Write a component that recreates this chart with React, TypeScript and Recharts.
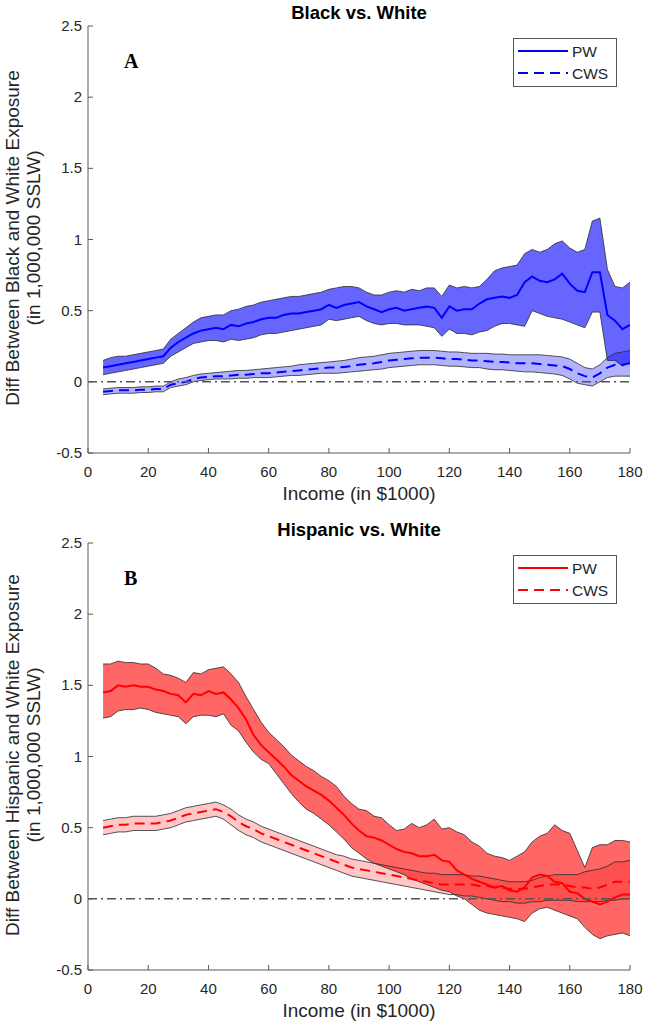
import React from 'react';
import { ComposedChart, Area, Line, XAxis, YAxis, ReferenceLine } from 'recharts';

const incomes = [
  5, 7.5, 10, 12.5, 15, 17.5, 20, 22.5, 25, 27.5,
  30, 32.5, 35, 37.5, 40, 42.5, 45, 47.5, 50, 52.5,
  55, 57.5, 60, 62.5, 65, 67.5, 70, 72.5, 75, 77.5,
  80, 82.5, 85, 87.5, 90, 92.5, 95, 97.5, 100, 102.5,
  105, 107.5, 110, 112.5, 115, 117.5, 120, 122.5, 125, 127.5,
  130, 132.5, 135, 137.5, 140, 142.5, 145, 147.5, 150, 152.5,
  155, 157.5, 160, 162.5, 165, 167.5, 170, 172.5, 175, 177.5,
  180,
];

// Panel A: Black vs. White
const blackPwMean = [
  0.10, 0.11, 0.12, 0.13, 0.14, 0.15, 0.16, 0.17, 0.18, 0.24,
  0.28, 0.31, 0.34, 0.36, 0.37, 0.38, 0.37, 0.40, 0.39, 0.41,
  0.42, 0.44, 0.45, 0.45, 0.47, 0.48, 0.48, 0.49, 0.50, 0.51,
  0.54, 0.52, 0.54, 0.55, 0.56, 0.53, 0.51, 0.49, 0.51, 0.52,
  0.50, 0.51, 0.52, 0.53, 0.52, 0.45, 0.53, 0.50, 0.51, 0.51,
  0.55, 0.58, 0.59, 0.60, 0.59, 0.61, 0.70, 0.74, 0.71, 0.70,
  0.72, 0.76, 0.69, 0.64, 0.63, 0.77, 0.77, 0.47, 0.43, 0.37,
  0.40,
];
const blackPwHi = [
  0.15, 0.17, 0.18, 0.18, 0.19, 0.20, 0.21, 0.22, 0.23, 0.30,
  0.34, 0.38, 0.42, 0.45, 0.46, 0.47, 0.47, 0.50, 0.51, 0.53,
  0.54, 0.56, 0.57, 0.58, 0.59, 0.60, 0.60, 0.61, 0.62, 0.63,
  0.65, 0.66, 0.67, 0.67, 0.66, 0.63, 0.61, 0.61, 0.63, 0.64,
  0.63, 0.65, 0.64, 0.66, 0.66, 0.60, 0.68, 0.66, 0.67, 0.66,
  0.67, 0.72, 0.78, 0.80, 0.81, 0.82, 0.90, 0.93, 0.91, 0.93,
  0.97, 0.99, 0.94, 0.91, 0.93, 1.13, 1.15, 0.79, 0.67, 0.66,
  0.70,
];
const blackPwLo = [
  0.05, 0.06, 0.07, 0.08, 0.09, 0.10, 0.11, 0.12, 0.13, 0.18,
  0.21, 0.24, 0.27, 0.28, 0.29, 0.29, 0.28, 0.30, 0.29, 0.30,
  0.31, 0.33, 0.34, 0.34, 0.35, 0.36, 0.37, 0.38, 0.39, 0.40,
  0.44, 0.43, 0.44, 0.45, 0.46, 0.43, 0.41, 0.40, 0.41, 0.41,
  0.40, 0.40, 0.40, 0.39, 0.38, 0.32, 0.37, 0.34, 0.34, 0.33,
  0.35, 0.36, 0.39, 0.41, 0.41, 0.40, 0.39, 0.50, 0.48, 0.46,
  0.45, 0.44, 0.42, 0.40, 0.38, 0.49, 0.49, 0.15, 0.15, 0.11,
  0.14,
];
const blackCwsMean = [
  -0.07, -0.065, -0.06, -0.06, -0.06, -0.055, -0.055, -0.05, -0.05, -0.02,
  -0.01, 0.0, 0.02, 0.03, 0.035, 0.04, 0.04, 0.045, 0.05, 0.05,
  0.055, 0.06, 0.06, 0.065, 0.07, 0.075, 0.08, 0.085, 0.09, 0.095,
  0.10, 0.10, 0.105, 0.11, 0.12, 0.125, 0.13, 0.14, 0.15, 0.155,
  0.16, 0.165, 0.17, 0.17, 0.17, 0.165, 0.16, 0.16, 0.155, 0.15,
  0.15, 0.145, 0.14, 0.14, 0.135, 0.13, 0.13, 0.13, 0.125, 0.12,
  0.115, 0.11, 0.09, 0.06, 0.04, 0.03, 0.06, 0.10, 0.12, 0.12,
  0.13,
];
const blackCwsHi = [
  -0.05, -0.045, -0.04, -0.04, -0.04, -0.035, -0.035, -0.03, -0.03, 0.0,
  0.02, 0.03, 0.045, 0.055, 0.06, 0.065, 0.07, 0.075, 0.08, 0.08,
  0.085, 0.09, 0.095, 0.10, 0.105, 0.11, 0.12, 0.125, 0.13, 0.135,
  0.14, 0.145, 0.15, 0.16, 0.17, 0.175, 0.18, 0.19, 0.20, 0.205,
  0.21, 0.215, 0.22, 0.22, 0.22, 0.215, 0.21, 0.21, 0.205, 0.20,
  0.20, 0.20, 0.195, 0.195, 0.19, 0.19, 0.19, 0.19, 0.19, 0.185,
  0.18, 0.175, 0.16, 0.13, 0.10, 0.09, 0.12, 0.17, 0.20, 0.21,
  0.22,
];
const blackCwsLo = [
  -0.09, -0.085, -0.08, -0.08, -0.08, -0.075, -0.075, -0.07, -0.07, -0.04,
  -0.03, -0.02, 0.0, 0.01, 0.015, 0.02, 0.02, 0.02, 0.025, 0.025,
  0.03, 0.03, 0.03, 0.035, 0.04, 0.045, 0.045, 0.05, 0.055, 0.06,
  0.06, 0.06, 0.065, 0.07, 0.075, 0.08, 0.085, 0.09, 0.10, 0.105,
  0.11, 0.115, 0.12, 0.12, 0.12, 0.115, 0.11, 0.11, 0.105, 0.10,
  0.10, 0.09, 0.085, 0.085, 0.08, 0.075, 0.07, 0.07, 0.065, 0.06,
  0.055, 0.045, 0.02, -0.01, -0.02, -0.03, 0.0, 0.03, 0.04, 0.04,
  0.04,
];

// Panel B: Hispanic vs. White
const hispPwMean = [
  1.45, 1.46, 1.50, 1.49, 1.50, 1.49, 1.49, 1.47, 1.46, 1.44,
  1.43, 1.38, 1.44, 1.43, 1.46, 1.44, 1.45, 1.40, 1.34, 1.26,
  1.15, 1.08, 1.03, 0.98, 0.93, 0.87, 0.83, 0.79, 0.76, 0.73,
  0.69, 0.64, 0.59, 0.53, 0.48, 0.44, 0.43, 0.41, 0.38, 0.35,
  0.33, 0.32, 0.30, 0.30, 0.31, 0.27, 0.26, 0.20, 0.17, 0.14,
  0.12, 0.10, 0.08, 0.09, 0.06, 0.05, 0.08, 0.15, 0.17, 0.16,
  0.12, 0.11, 0.05, 0.04, 0.0, -0.02, -0.04, -0.02, 0.01, 0.03,
  0.03,
];
const hispPwHi = [
  1.65, 1.65, 1.67, 1.66, 1.66, 1.65, 1.65, 1.62, 1.58, 1.57,
  1.55, 1.52, 1.59, 1.58, 1.61, 1.62, 1.63, 1.58, 1.52, 1.42,
  1.33, 1.24, 1.17, 1.12, 1.07, 1.01, 0.97, 0.93, 0.90, 0.86,
  0.83, 0.79, 0.72, 0.67, 0.63, 0.62, 0.58, 0.57, 0.52, 0.48,
  0.49, 0.53, 0.50, 0.52, 0.56, 0.49, 0.50, 0.47, 0.45, 0.40,
  0.37, 0.32, 0.30, 0.29, 0.27, 0.30, 0.33, 0.40, 0.44, 0.46,
  0.52, 0.48, 0.46, 0.34, 0.22, 0.36, 0.38, 0.38, 0.41, 0.41,
  0.40,
];
const hispPwLo = [
  1.27, 1.28, 1.32, 1.33, 1.33, 1.34, 1.33, 1.31, 1.30, 1.29,
  1.28, 1.23, 1.28, 1.29, 1.29, 1.28, 1.30, 1.22, 1.18, 1.10,
  1.03, 0.98, 0.95, 0.88, 0.81, 0.74, 0.68, 0.63, 0.60, 0.56,
  0.52, 0.47, 0.42, 0.36, 0.32, 0.28, 0.25, 0.23, 0.21, 0.19,
  0.17, 0.14, 0.12, 0.10, 0.08, 0.06, 0.05, 0.02, 0.0, -0.04,
  -0.08, -0.10, -0.11, -0.12, -0.13, -0.14, -0.16, -0.10, -0.07, -0.06,
  -0.08, -0.10, -0.12, -0.14, -0.20, -0.25, -0.28, -0.26, -0.25, -0.24,
  -0.26,
];
const hispCwsMean = [
  0.50, 0.51, 0.52, 0.52, 0.53, 0.53, 0.53, 0.53, 0.54, 0.55,
  0.57, 0.59, 0.60, 0.61, 0.62, 0.63, 0.61, 0.58, 0.54, 0.51,
  0.49, 0.46, 0.44, 0.42, 0.40, 0.38, 0.36, 0.34, 0.32, 0.30,
  0.28, 0.26, 0.24, 0.22, 0.21, 0.20, 0.19, 0.18, 0.17, 0.16,
  0.15, 0.14, 0.13, 0.12, 0.11, 0.10, 0.10, 0.10, 0.10, 0.10,
  0.09, 0.09, 0.08, 0.08, 0.07, 0.07, 0.07, 0.08, 0.09, 0.10,
  0.10, 0.10, 0.09, 0.08, 0.08, 0.07, 0.08, 0.10, 0.12, 0.12,
  0.12,
];
const hispCwsHi = [
  0.55, 0.56, 0.57, 0.57, 0.58, 0.58, 0.58, 0.58, 0.59, 0.60,
  0.62, 0.64, 0.65, 0.66, 0.67, 0.68, 0.66, 0.63, 0.59, 0.56,
  0.54, 0.51, 0.49, 0.47, 0.45, 0.43, 0.41, 0.39, 0.37, 0.35,
  0.33, 0.31, 0.30, 0.28, 0.27, 0.26, 0.25, 0.24, 0.23, 0.22,
  0.21, 0.20, 0.19, 0.18, 0.18, 0.17, 0.17, 0.17, 0.17, 0.16,
  0.16, 0.15, 0.14, 0.13, 0.12, 0.12, 0.12, 0.13, 0.15, 0.16,
  0.17, 0.17, 0.17, 0.17, 0.19, 0.20, 0.21, 0.23, 0.26, 0.26,
  0.27,
];
const hispCwsLo = [
  0.45, 0.46, 0.47, 0.47, 0.48, 0.48, 0.48, 0.48, 0.49, 0.50,
  0.52, 0.54, 0.55, 0.56, 0.57, 0.58, 0.56, 0.52, 0.48, 0.45,
  0.43, 0.40, 0.38, 0.36, 0.34, 0.32, 0.30, 0.28, 0.26, 0.24,
  0.22, 0.20, 0.18, 0.16, 0.15, 0.14, 0.13, 0.12, 0.11, 0.10,
  0.09, 0.08, 0.07, 0.06, 0.05, 0.04, 0.03, 0.03, 0.02, 0.02,
  0.01, 0.0, -0.01, -0.02, -0.02, -0.03, -0.03, -0.02, -0.02, -0.01,
  -0.01, -0.01, -0.01, -0.02, -0.02, -0.02, -0.02, -0.01, -0.01, 0.0,
  0.0,
];

const xTicks = [0, 20, 40, 60, 80, 100, 120, 140, 160, 180];
const yTicks = [-0.5, 0, 0.5, 1, 1.5, 2, 2.5];

const seriesLabels = ['PW', 'CWS'];
const panelTitles = ['Black vs. White', 'Hispanic vs. White'];
const panelLetters = ['A', 'B'];
const yLabelLines = [
  ['Diff Between Black and White Exposure', '(in 1,000,000 SSLW)'],
  ['Diff Between Hispanic and White Exposure', '(in 1,000,000 SSLW)'],
];
const xLabel = 'Income (in $1000)';

const FONT = '"Liberation Sans", Arial, Helvetica, sans-serif';
const AXIS_COLOR = '#5a5a5a';
const TEXT_COLOR = '#262626';

const W = 647;
const H = 514;
const PLOT_LEFT = 88;
const PLOT_RIGHT = 630;
const PLOT_TOP = 26;
const PLOT_BOTTOM = 453;
const X_AXIS_H = 30;
const Y_AXIS_W = 40;
const M = {
  top: PLOT_TOP,
  right: W - PLOT_RIGHT,
  bottom: H - PLOT_BOTTOM - X_AXIS_H,
  left: PLOT_LEFT - Y_AXIS_W,
};

const XTick = (props: any) => {
  const { x, payload } = props;
  return (
    <g>
      <line x1={x} x2={x} y1={PLOT_BOTTOM} y2={PLOT_BOTTOM - 5} stroke={AXIS_COLOR} strokeWidth={1} />
      <text x={x} y={PLOT_BOTTOM + 24} textAnchor="middle" fontSize={15} fontFamily={FONT} fill={TEXT_COLOR}>
        {String(payload.value)}
      </text>
    </g>
  );
};

const YTick = (props: any) => {
  const { y, payload } = props;
  return (
    <g>
      <line x1={PLOT_LEFT} x2={PLOT_LEFT + 5} y1={y} y2={y} stroke={AXIS_COLOR} strokeWidth={1} />
      <text x={PLOT_LEFT - 6} y={y + 5} textAnchor="end" fontSize={15} fontFamily={FONT} fill={TEXT_COLOR}>
        {String(payload.value)}
      </text>
    </g>
  );
};

function buildRows(pwM: number[], pwL: number[], pwH: number[], cM: number[], cL: number[], cH: number[]) {
  return incomes.map((x, i) => ({
    x,
    pw: pwM[i],
    pwLo: pwL[i],
    pwHi: pwH[i],
    pwBand: [pwL[i], pwH[i]],
    cws: cM[i],
    cwsLo: cL[i],
    cwsHi: cH[i],
    cwsBand: [cL[i], cH[i]],
  }));
}

const panels = [
  {
    rows: buildRows(blackPwMean, blackPwLo, blackPwHi, blackCwsMean, blackCwsLo, blackCwsHi),
    color: '#0000ff',
    pwOpacity: 0.6,
    cwsOpacity: 0.3,
  },
  {
    rows: buildRows(hispPwMean, hispPwLo, hispPwHi, hispCwsMean, hispCwsLo, hispCwsHi),
    color: '#ff0000',
    pwOpacity: 0.6,
    cwsOpacity: 0.22,
  },
];

const DASH = '10 6';

function Panel({ idx }: { idx: number }) {
  const p = panels[idx];
  const edge = '#2a2a2a';
  return (
    <div style={{ position: 'absolute', left: 0, top: idx * 517, width: W, height: H }}>
      <ComposedChart width={W} height={H} data={p.rows} margin={M}>
        <XAxis
          type="number"
          dataKey="x"
          domain={[0, 180]}
          ticks={xTicks}
          height={X_AXIS_H}
          tickSize={0}
          tickMargin={0}
          tick={<XTick />}
          axisLine={{ stroke: AXIS_COLOR, strokeWidth: 1 }}
          tickLine={false}
          allowDataOverflow
          interval={0}
        />
        <YAxis
          type="number"
          domain={[-0.5, 2.5]}
          ticks={yTicks}
          width={Y_AXIS_W}
          tickSize={0}
          tickMargin={0}
          tick={<YTick />}
          axisLine={{ stroke: AXIS_COLOR, strokeWidth: 1 }}
          tickLine={false}
          allowDataOverflow
          interval={0}
        />
        <Area
          type="linear"
          dataKey="cwsBand"
          fill={p.color}
          fillOpacity={p.cwsOpacity}
          stroke="none"
          isAnimationActive={false}
          activeDot={false}
        />
        <Area
          type="linear"
          dataKey="pwBand"
          fill={p.color}
          fillOpacity={p.pwOpacity}
          stroke="none"
          isAnimationActive={false}
          activeDot={false}
        />
        <Line type="linear" dataKey="cwsHi" stroke={edge} strokeWidth={0.8} dot={false} isAnimationActive={false} />
        <Line type="linear" dataKey="cwsLo" stroke={edge} strokeWidth={0.8} dot={false} isAnimationActive={false} />
        <Line type="linear" dataKey="pwHi" stroke={edge} strokeWidth={0.8} dot={false} isAnimationActive={false} />
        <Line type="linear" dataKey="pwLo" stroke={edge} strokeWidth={0.8} dot={false} isAnimationActive={false} />
        <Line
          type="linear"
          dataKey="cws"
          stroke={p.color}
          strokeWidth={2}
          strokeDasharray={DASH}
          dot={false}
          isAnimationActive={false}
        />
        <Line type="linear" dataKey="pw" stroke={p.color} strokeWidth={2} dot={false} isAnimationActive={false} />
        <ReferenceLine
          y={0}
          stroke="#555555"
          strokeWidth={1.5}
          strokeDasharray="9 4 2 4"
          ifOverflow="visible"
        />
      </ComposedChart>

      <div
        style={{
          position: 'absolute',
          left: PLOT_LEFT,
          width: PLOT_RIGHT - PLOT_LEFT,
          top: 2,
          textAlign: 'center',
          fontFamily: FONT,
          fontWeight: 'bold',
          fontSize: 18.5,
          color: '#000',
          lineHeight: '21px',
        }}
      >
        {panelTitles[idx]}
      </div>

      <div
        style={{
          position: 'absolute',
          left: 124,
          top: 49,
          fontFamily: '"Liberation Serif", "Times New Roman", serif',
          fontWeight: 'bold',
          fontSize: 20,
          color: '#000',
          lineHeight: '24px',
        }}
      >
        {panelLetters[idx]}
      </div>

      <div
        style={{
          position: 'absolute',
          left: 23 - 230,
          top: 238 - 21,
          width: 460,
          height: 42,
          transform: 'rotate(-90deg)',
          textAlign: 'center',
          fontFamily: FONT,
          fontSize: 19,
          color: TEXT_COLOR,
          lineHeight: '21px',
          whiteSpace: 'nowrap',
        }}
      >
        <div>{yLabelLines[idx][0]}</div>
        <div>{yLabelLines[idx][1]}</div>
      </div>

      <div
        style={{
          position: 'absolute',
          left: PLOT_LEFT,
          width: PLOT_RIGHT - PLOT_LEFT,
          top: 483,
          textAlign: 'center',
          fontFamily: FONT,
          fontSize: 19,
          color: TEXT_COLOR,
          lineHeight: '22px',
        }}
      >
        {xLabel}
      </div>

      <div
        style={{
          position: 'absolute',
          left: 513,
          top: 38,
          width: 104,
          height: 49,
          boxSizing: 'border-box',
          border: '1px solid #555',
          background: '#fff',
        }}
      >
        <svg width={102} height={47} style={{ position: 'absolute', left: 0, top: 0 }}>
          <line x1={4} x2={54} y1={12} y2={12} stroke={p.color} strokeWidth={2} />
          <line x1={4} x2={54} y1={34} y2={34} stroke={p.color} strokeWidth={2} strokeDasharray={DASH} />
          <text x={58} y={17.5} fontSize={15.5} fontFamily={FONT} fill={TEXT_COLOR}>{seriesLabels[0]}</text>
          <text x={58} y={39.5} fontSize={15.5} fontFamily={FONT} fill={TEXT_COLOR}>{seriesLabels[1]}</text>
        </svg>
      </div>
    </div>
  );
}

export default function App() {
  return (
    <div style={{ position: 'absolute', left: 0, top: 0, width: W, height: 1028, background: '#fff', overflow: 'hidden' }}>
      <Panel idx={0} />
      <Panel idx={1} />
    </div>
  );
}
